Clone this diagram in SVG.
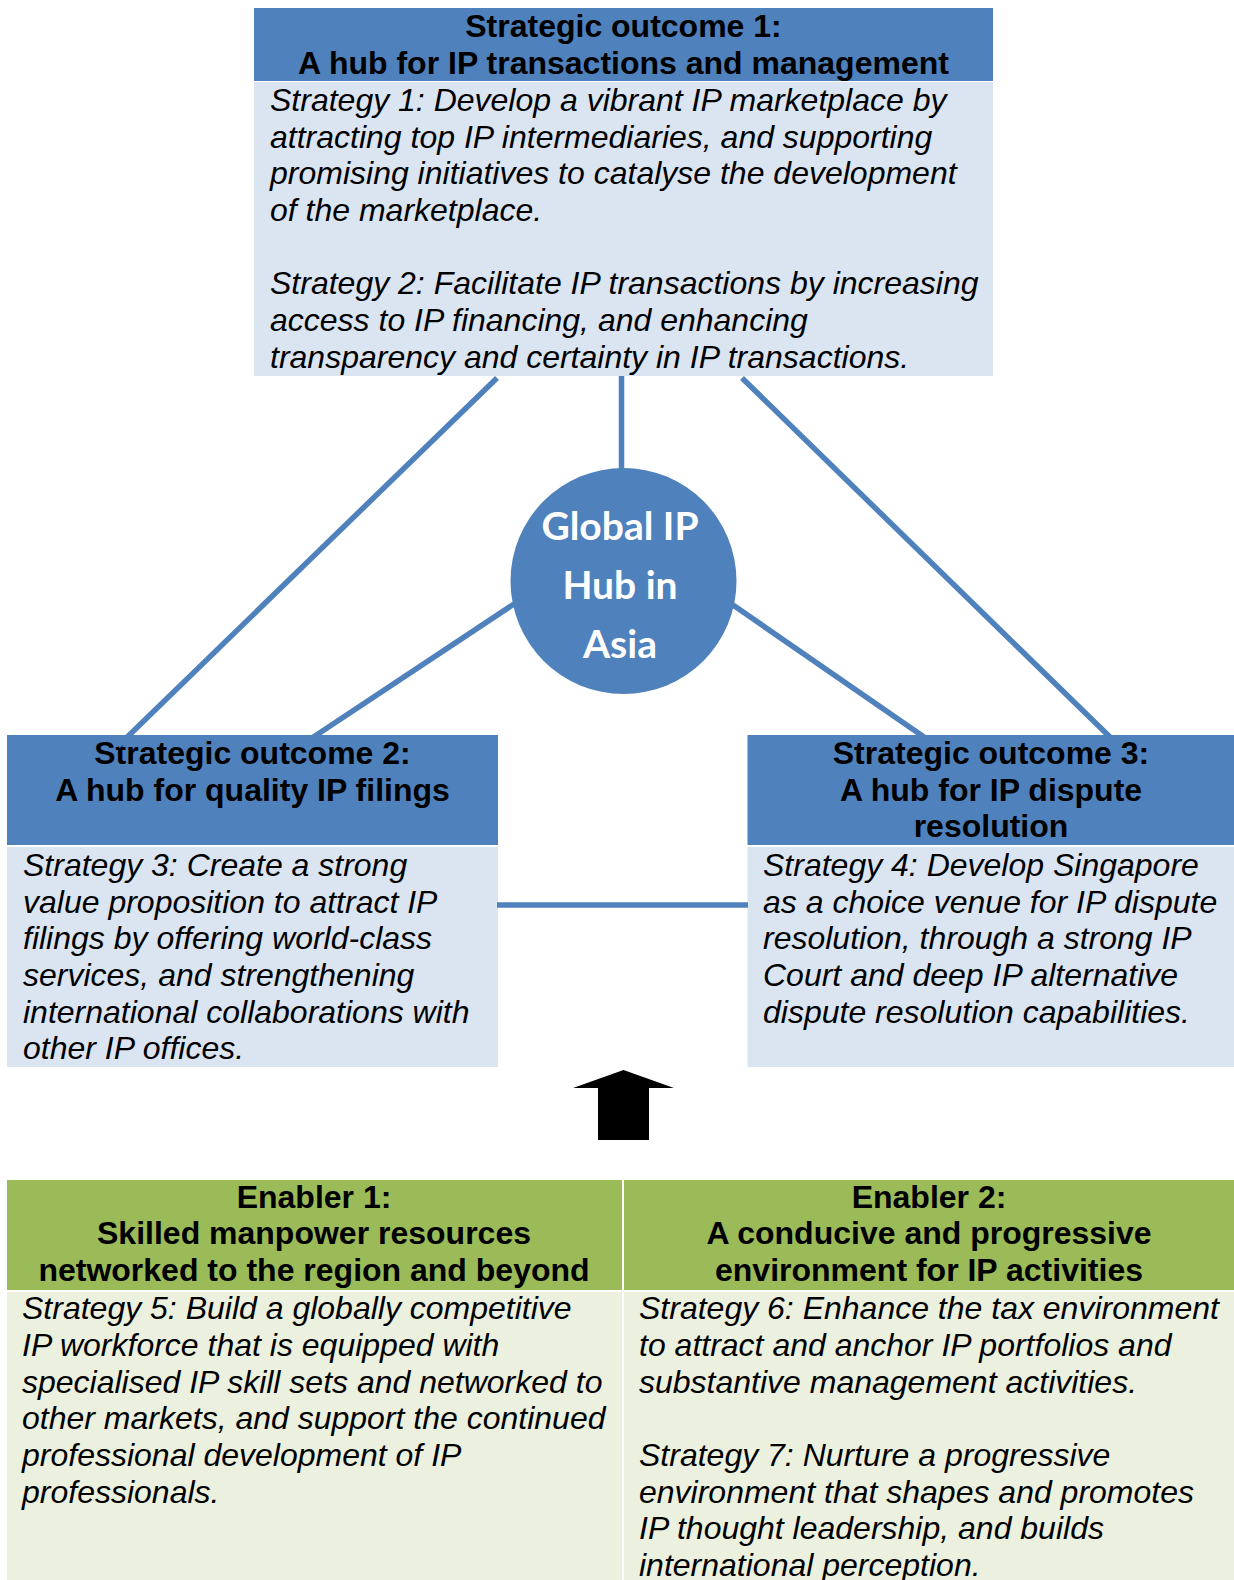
<svg xmlns="http://www.w3.org/2000/svg" width="1234" height="1580" viewBox="0 0 1234 1580">
<style>
.hdr{fill:#4F81BD}
.body{fill:#DBE5F1}
.ghdr{fill:#9BBB59}
.gbody{fill:#EBF1DE}
.ht{font-family:"Liberation Sans",Arial,sans-serif;font-weight:bold;font-size:32px;fill:#000;text-anchor:middle}
.st{font-family:"Liberation Sans",Arial,sans-serif;font-style:italic;font-size:32px;fill:#000}
.hub{font-family:Lato,"Open Sans",sans-serif;font-weight:bold;font-size:39px;fill:#fff;text-anchor:middle}
.conn{stroke:#4F81BD;stroke-width:5.5;fill:none}
</style>
<rect width="1234" height="1580" fill="#fff"/>

<g id="outcome1">
<rect class="hdr" x="254" y="8" width="739" height="73"/>
<rect class="body" x="254" y="82" width="739" height="294"/>
<text class="ht" x="623.5" y="36.5">Strategic outcome 1:</text>
<text class="ht" x="623.5" y="73.5">A hub for IP transactions and management</text>
<text class="st" x="270" y="111">Strategy 1: Develop a vibrant IP marketplace by</text>
<text class="st" x="270" y="147.7">attracting top IP intermediaries, and supporting</text>
<text class="st" x="270" y="184.3">promising initiatives to catalyse the development</text>
<text class="st" x="270" y="221">of the marketplace.</text>
<text class="st" x="270" y="294.3">Strategy 2: Facilitate IP transactions by increasing</text>
<text class="st" x="270" y="331">access to IP financing, and enhancing</text>
<text class="st" x="270" y="367.7">transparency and certainty in IP transactions.</text>
</g>

<g id="outcome2">
<rect class="hdr" x="7" y="735" width="491" height="110"/>
<rect class="body" x="7" y="847" width="491" height="220"/>
<text class="ht" x="252.5" y="764">Strategic outcome 2:</text>
<text class="ht" x="252.5" y="800.7">A hub for quality IP filings</text>
<text class="st" x="23" y="876">Strategy 3: Create a strong</text>
<text class="st" x="23" y="912.7">value proposition to attract IP</text>
<text class="st" x="23" y="949.3">filings by offering world-class</text>
<text class="st" x="23" y="986">services, and strengthening</text>
<text class="st" x="23" y="1022.7">international collaborations with</text>
<text class="st" x="23" y="1059.3">other IP offices.</text>
</g>

<g id="outcome3">
<rect class="hdr" x="747.5" y="735" width="486.5" height="110"/>
<rect class="body" x="747.5" y="847" width="486.5" height="220"/>
<text class="ht" x="991" y="764">Strategic outcome 3:</text>
<text class="ht" x="991" y="800.7">A hub for IP dispute</text>
<text class="ht" x="991" y="837.3">resolution</text>
<text class="st" x="763" y="876">Strategy 4: Develop Singapore</text>
<text class="st" x="763" y="912.7">as a choice venue for IP dispute</text>
<text class="st" x="763" y="949.3">resolution, through a strong IP</text>
<text class="st" x="763" y="986">Court and deep IP alternative</text>
<text class="st" x="763" y="1022.7">dispute resolution capabilities.</text>
</g>

<g id="connectors">
<line class="conn" x1="621.5" y1="376" x2="621.5" y2="470"/>
<line class="conn" x1="497" y1="378" x2="118" y2="746"/>
<line class="conn" x1="742" y1="378" x2="1113" y2="740"/>
<line class="conn" x1="514" y1="604" x2="312" y2="738"/>
<line class="conn" x1="733" y1="605" x2="924" y2="737"/>
<line class="conn" x1="497" y1="905" x2="748" y2="905"/>
</g>

<g id="hub">
<circle cx="623.5" cy="581" r="113" fill="#4F81BD"/>
<text class="hub" x="620" y="540">Global IP</text>
<text class="hub" x="620" y="599">Hub in</text>
<text class="hub" x="620" y="658">Asia</text>
</g>

<g id="arrow">
<polygon points="623.5,1070 674,1088 649,1088 649,1140 598,1140 598,1088 573,1088" fill="#000"/>
</g>

<g id="enabler1">
<rect class="ghdr" x="7" y="1180" width="615" height="110"/>
<rect class="gbody" x="7" y="1292" width="615" height="288"/>
<text class="ht" x="314" y="1207.5">Enabler 1:</text>
<text class="ht" x="314" y="1244">Skilled manpower resources</text>
<text class="ht" x="314" y="1280.7">networked to the region and beyond</text>
<text class="st" x="22" y="1319.3">Strategy 5: Build a globally competitive</text>
<text class="st" x="22" y="1356">IP workforce that is equipped with</text>
<text class="st" x="22" y="1392.7">specialised IP skill sets and networked to</text>
<text class="st" x="22" y="1429.3">other markets, and support the continued</text>
<text class="st" x="22" y="1466">professional development of IP</text>
<text class="st" x="22" y="1502.7">professionals.</text>
</g>

<g id="enabler2">
<rect class="ghdr" x="624" y="1180" width="610" height="110"/>
<rect class="gbody" x="624" y="1292" width="610" height="288"/>
<text class="ht" x="929" y="1207.5">Enabler 2:</text>
<text class="ht" x="929" y="1244">A conducive and progressive</text>
<text class="ht" x="929" y="1280.7">environment for IP activities</text>
<text class="st" x="639" y="1319.3">Strategy 6: Enhance the tax environment</text>
<text class="st" x="639" y="1356">to attract and anchor IP portfolios and</text>
<text class="st" x="639" y="1392.7">substantive management activities.</text>
<text class="st" x="639" y="1466">Strategy 7: Nurture a progressive</text>
<text class="st" x="639" y="1502.7">environment that shapes and promotes</text>
<text class="st" x="639" y="1539.3">IP thought leadership, and builds</text>
<text class="st" x="639" y="1576">international perception.</text>
</g>
</svg>
